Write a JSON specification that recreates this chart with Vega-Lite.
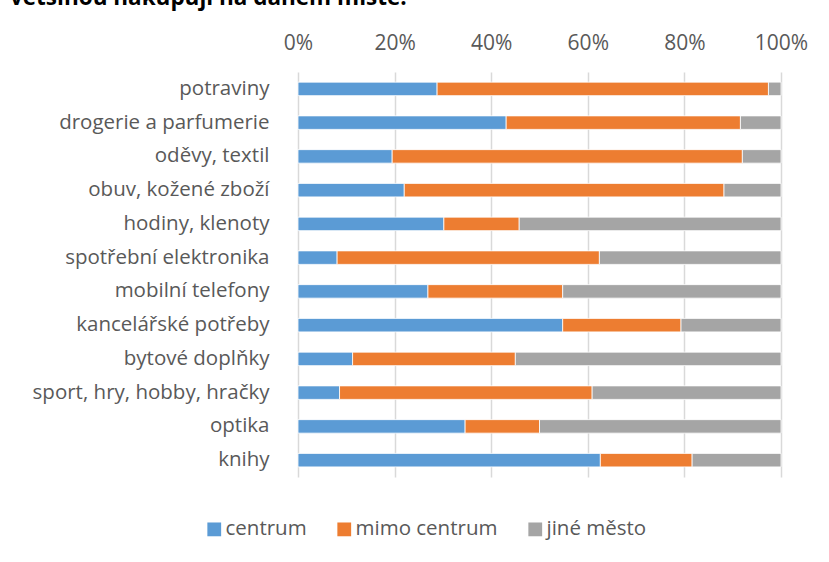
{
  "$schema": "https://vega.github.io/schema/vega-lite/v6.json",
  "autosize": "none",
  "width": 483,
  "height": 405,
  "padding": {"left": 298, "top": 72, "right": 48, "bottom": 85},
  "background": "white",
  "title": {
    "text": "většinou nakupují na daném místě.",
    "anchor": "start",
    "frame": "group",
    "dx": -288,
    "offset": 5,
    "baseline": "alphabetic",
    "font": "Open Sans",
    "fontSize": 22.5,
    "fontWeight": "bold",
    "color": "#000000"
  },
  "data": {
    "values": [
      {"kategorie": "potraviny", "centrum": 28.8, "mimo centrum": 68.6, "jiné město": 2.6},
      {"kategorie": "drogerie a parfumerie", "centrum": 43.1, "mimo centrum": 48.5, "jiné město": 8.4},
      {"kategorie": "oděvy, textil", "centrum": 19.5, "mimo centrum": 72.5, "jiné město": 8.0},
      {"kategorie": "obuv, kožené zboží", "centrum": 22.0, "mimo centrum": 66.2, "jiné město": 11.8},
      {"kategorie": "hodiny, klenoty", "centrum": 30.2, "mimo centrum": 15.6, "jiné město": 54.2},
      {"kategorie": "spotřební elektronika", "centrum": 8.1, "mimo centrum": 54.3, "jiné město": 37.6},
      {"kategorie": "mobilní telefony", "centrum": 26.9, "mimo centrum": 27.9, "jiné město": 45.2},
      {"kategorie": "kancelářské potřeby", "centrum": 54.8, "mimo centrum": 24.5, "jiné město": 20.7},
      {"kategorie": "bytové doplňky", "centrum": 11.3, "mimo centrum": 33.7, "jiné město": 55.0},
      {"kategorie": "sport, hry, hobby, hračky", "centrum": 8.6, "mimo centrum": 52.3, "jiné město": 39.1},
      {"kategorie": "optika", "centrum": 34.6, "mimo centrum": 15.4, "jiné město": 50.0},
      {"kategorie": "knihy", "centrum": 62.6, "mimo centrum": 19.0, "jiné město": 18.4}
    ]
  },
  "transform": [
    {"fold": ["centrum", "mimo centrum", "jiné město"], "as": ["misto", "podil"]},
    {"calculate": "indexof(['centrum', 'mimo centrum', 'jiné město'], datum.misto)", "as": "poradi"}
  ],
  "mark": {"type": "bar", "stroke": "white", "strokeWidth": 0.8},
  "encoding": {
    "y": {
      "field": "kategorie",
      "type": "nominal",
      "sort": null,
      "scale": {"paddingInner": 0.6, "paddingOuter": 0.3},
      "axis": {
        "title": null,
        "domain": false,
        "ticks": false,
        "labelPadding": 29,
        "labelFont": "Open Sans",
        "labelFontSize": 20.5,
        "labelColor": "#595959",
        "labelLimit": 400
      }
    },
    "x": {
      "field": "podil",
      "type": "quantitative",
      "stack": "normalize",
      "scale": {"domain": [0, 1], "nice": false},
      "axis": {
        "orient": "top",
        "title": null,
        "format": ".0%",
        "values": [0, 0.2, 0.4, 0.6, 0.8, 1],
        "domain": false,
        "ticks": false,
        "grid": true,
        "gridColor": "#d9d9d9",
        "gridWidth": 1.5,
        "labelPadding": 19,
        "labelFont": "Open Sans",
        "labelFontSize": 21,
        "labelColor": "#595959",
        "labelFlush": false
      }
    },
    "order": {"field": "poradi", "type": "quantitative", "sort": "ascending"},
    "color": {
      "field": "misto",
      "type": "nominal",
      "sort": ["centrum", "mimo centrum", "jiné město"],
      "scale": {
        "domain": ["centrum", "mimo centrum", "jiné město"],
        "range": ["#5B9BD5", "#ED7D31", "#A5A5A5"]
      },
      "legend": {
        "title": null,
        "orient": "none",
        "direction": "horizontal",
        "legendX": -94,
        "legendY": 447,
        "symbolType": "square",
        "symbolSize": 190,
        "symbolStrokeWidth": 0,
        "symbolOpacity": 1,
        "labelFont": "Open Sans",
        "labelFontSize": 20.5,
        "labelColor": "#595959",
        "labelOffset": 1,
        "columnPadding": 27
      }
    }
  },
  "config": {
    "view": {"stroke": null}
  }
}
